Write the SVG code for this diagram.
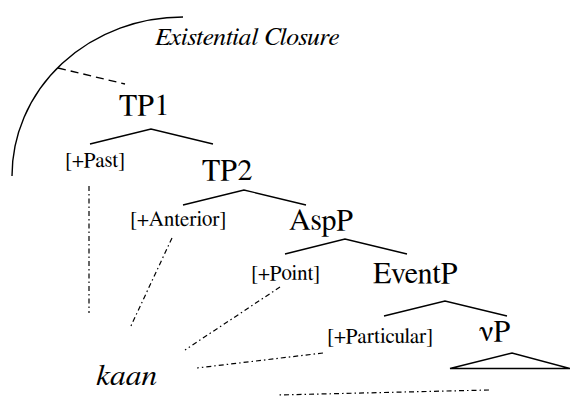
<svg xmlns="http://www.w3.org/2000/svg" width="570" height="396" viewBox="0 0 570 396">
<style>
text{font-family:FreeSerif,serif;fill:#000}
.big{font-size:30px}
.feat{font-size:21px}
.it{font-style:italic}
.br{fill:none;stroke:#000;stroke-width:1.4}
.dd{fill:none;stroke:#000;stroke-width:1.2;stroke-dasharray:5 3 1.5 3}
</style>
<rect width="570" height="396" fill="#fff"/>
<g id="closure">
<path class="br" d="M12,176 A171,159 0 0 1 183,17"/>
<text class="it" x="155" y="45" font-size="24.5" textLength="184" lengthAdjust="spacingAndGlyphs">Existential Closure</text>
</g>
<g id="TP1"><text class="big" x="119" y="115">TP1</text></g>
<g id="Past"><text class="feat" x="65" y="167">[+Past]</text></g>
<g id="TP2"><text class="big" x="202" y="180">TP2</text></g>
<g id="Anterior"><text class="feat" x="130" y="226">[+Anterior]</text></g>
<g id="AspP"><text class="big" x="289" y="230">AspP</text></g>
<g id="Point"><text class="feat" x="251" y="280">[+Point]</text></g>
<g id="EventP"><text class="big" x="373" y="283">EventP</text></g>
<g id="Particular"><text class="feat" x="327" y="343">[+Particular]</text></g>
<g id="vP"><text class="big" x="479" y="341">νP</text><path class="br" d="M450,368.5 L512,353 L570,368.5 Z"/></g>
<g id="kaan"><text class="it" x="96" y="385" font-size="30" textLength="61" lengthAdjust="spacingAndGlyphs">kaan</text></g>
<g id="connectors">
<path class="br" d="M58,68 L125,84" stroke-dasharray="8 5"/>
<path class="br" d="M90,144 L151,129 L213,144"/>
<path class="br" d="M183,205 L244,190 L306,205"/>
<path class="br" d="M285,254 L345,239 L407,254"/>
<path class="br" d="M384,316 L445,301 L507,316"/>
<path class="dd" d="M89,186 L89,313"/>
<path class="dd" d="M172,238 L130,328"/>
<path class="dd" d="M280,287 L185,350"/>
<path class="dd" d="M323,353 L197,368"/>
<path class="dd" d="M489,390 L278,395"/>
</g>
</svg>
